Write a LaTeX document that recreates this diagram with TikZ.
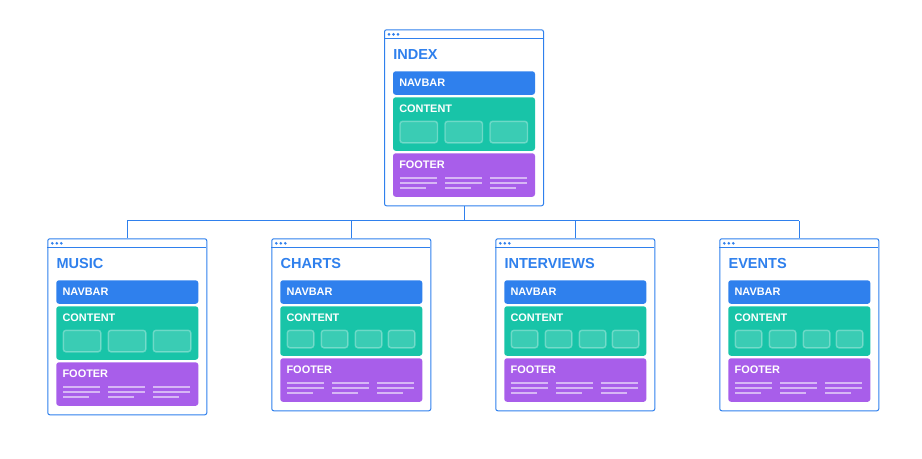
\documentclass[tikz,border=0pt]{standalone}
\usepackage{fontspec}
\setmainfont{Liberation Sans}
\usetikzlibrary{positioning}
\definecolor{winblue}{RGB}{47, 128, 237}
\definecolor{navblue}{RGB}{47, 128, 237}
\definecolor{contentteal}{RGB}{24, 196, 168}
\definecolor{footerpurple}{RGB}{168, 94, 234}

\tikzset{
  winframe/.style={draw=winblue, line width=0.75pt, rounded corners=1.5pt, fill=white, inner sep=0pt, anchor=north west},
  block/.style={rounded corners=2pt},
  card/.style={fill=white, fill opacity=0.15, draw=white, draw opacity=0.3, line width=1.1pt, rounded corners=2pt},
  footrule/.style={draw=white, draw opacity=0.55, line width=1.1pt},
  blocktext/.style={font=\bfseries\fontsize{8.2}{10}\selectfont, text=white, anchor=base west, inner sep=0pt},
  wintitle/.style={font=\bfseries\fontsize{10.9}{12}\selectfont, text=winblue, anchor=base west, inner sep=0pt},
  wire/.style={draw=winblue, line width=0.75pt},
}

% #1 name, #2 x, #3 y (top left, px), #4 title, #5 number of cards
\newcommand{\pagewin}[5]{%
  \begin{scope}[shift={(#2,#3)}]
    \ifnum#5=3
      \def\contbot{121.5}\def\foottop{124}\def\winh{132pt}
    \else
      \def\contbot{117.5}\def\foottop{120}\def\winh{129pt}
    \fi
    \node[winframe, minimum width=119.25pt, minimum height=\winh] (#1) at (0,0) {};
    % title bar
    \draw[wire] (0,9) -- (159,9);
    \foreach \dx in {5,9.5,14}
      \fill[winblue] (\dx,5) circle (1.1pt);
    \node[wintitle] (#1-title) at (9,30.5) {#4};
    % navbar
    \fill[navblue, block] (9,42) rectangle (151,65.5);
    \node[blocktext] (#1-nav) at (15,57.3) {NAVBAR};
    % content
    \fill[contentteal, block] (9,68) rectangle (151,\contbot);
    \node[blocktext] (#1-content) at (15,83.3) {CONTENT};
    \ifnum#5=3
      \foreach \cx in {16,61,106}
        \draw[card] (\cx,92) rectangle ++(37.5,21.5);
    \else
      \foreach \cx in {16,50,84,117}
        \draw[card] (\cx,92) rectangle ++(26.5,17.5);
    \fi
    % footer
    \fill[footerpurple, block] (9,\foottop) rectangle (151,\foottop+43.5);
    \node[blocktext] (#1-footer) at (15,\foottop+15.3) {FOOTER};
    \foreach \cx in {16,61,106} {
      \draw[footrule] (\cx,\foottop+24.5) -- ++(37,0);
      \draw[footrule] (\cx,\foottop+29.5) -- ++(37,0);
      \draw[footrule] (\cx,\foottop+34.7) -- ++(26,0);
    }
  \end{scope}}

\begin{document}
\begin{tikzpicture}[x=0.75pt, y=-0.75pt]
  \useasboundingbox (0,0) rectangle (922,459);
  % Pages
  \pagewin{index}{384}{29.3}{INDEX}{3}
  \pagewin{music}{47.3}{238.3}{MUSIC}{3}
  \pagewin{charts}{271.3}{238.3}{CHARTS}{4}
  \pagewin{interviews}{495.3}{238.3}{INTERVIEWS}{4}
  \pagewin{events}{719.3}{238.3}{EVENTS}{4}
  % Tree
  \coordinate (bus) at (463,221);
  \draw[wire] (index.south) -- (index.south |- bus);
  \draw[wire] (music.north |- bus) -- (events.north |- bus);
  \foreach \w in {music,charts,interviews,events}
    \draw[wire] (\w.north |- bus) -- (\w.north);
\end{tikzpicture}
\end{document}
